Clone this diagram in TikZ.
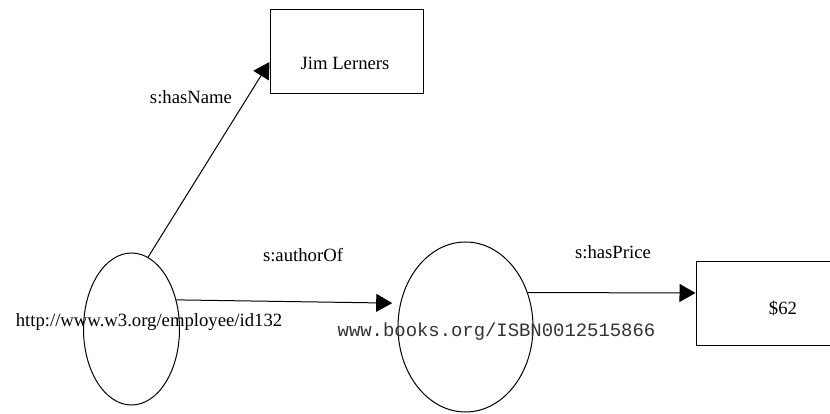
\documentclass[tikz,border=0pt]{standalone}
\usepackage{fontspec}
\setmainfont{Liberation Serif}
\newfontfamily\monofont{Liberation Mono}
\usetikzlibrary{arrows.meta,shapes.geometric}
\begin{document}
\begin{tikzpicture}[x=1pt,y=-1pt,
  every node/.style={font=\fontsize{18.7}{22}\selectfont},
  res/.style={draw, ellipse, line width=1pt, inner sep=0pt},
  lit/.style={draw, rectangle, line width=1pt, inner sep=0pt},
  txt/.style={inner sep=0pt},
  edge/.style={line width=1pt, -{Triangle[length=16pt,width=18pt]}}]
\useasboundingbox (0,0) rectangle (830,414);
\begin{scope}
\clip (0,0) rectangle (830,414);
% nodes
\node[lit, minimum width=153pt, minimum height=84pt] (jim) at (346.5,52) {};
\node[txt] (jimt) at (345,63.5) {Jim Lerners};
\node[res, minimum width=96pt, minimum height=152pt] (e1) at (131.5,329) {};
\node[res, minimum width=135pt, minimum height=170pt] (e2) at (465.5,327) {};
\node[lit, minimum width=180pt, minimum height=84pt] (price) at (786,303) {};
\node[txt] (pricet) at (783,308) {\$62};
\node[txt] (uri1) at (149,322) {http://www.w3.org/employee/id132};
\node[txt, text=black!80] (uri2) at (496.5,332) {\monofont\fontsize{18.9}{22}\selectfont www.books.org/ISBN0012515866};
% edges
\draw[edge] (e1.77) -- ([yshift=-10pt]jim.west);
\node[txt] (l1) at (191,97) {s:hasName};
\draw[edge, shorten >=8pt] (e1.33) -- (e2.160);
\node[txt] (l2) at (303,255) {s:authorOf};
\draw[edge] (e2.29) -- ([yshift=10pt]price.west);
\node[txt] (l3) at (613,252) {s:hasPrice};
\end{scope}
\end{tikzpicture}
\end{document}
